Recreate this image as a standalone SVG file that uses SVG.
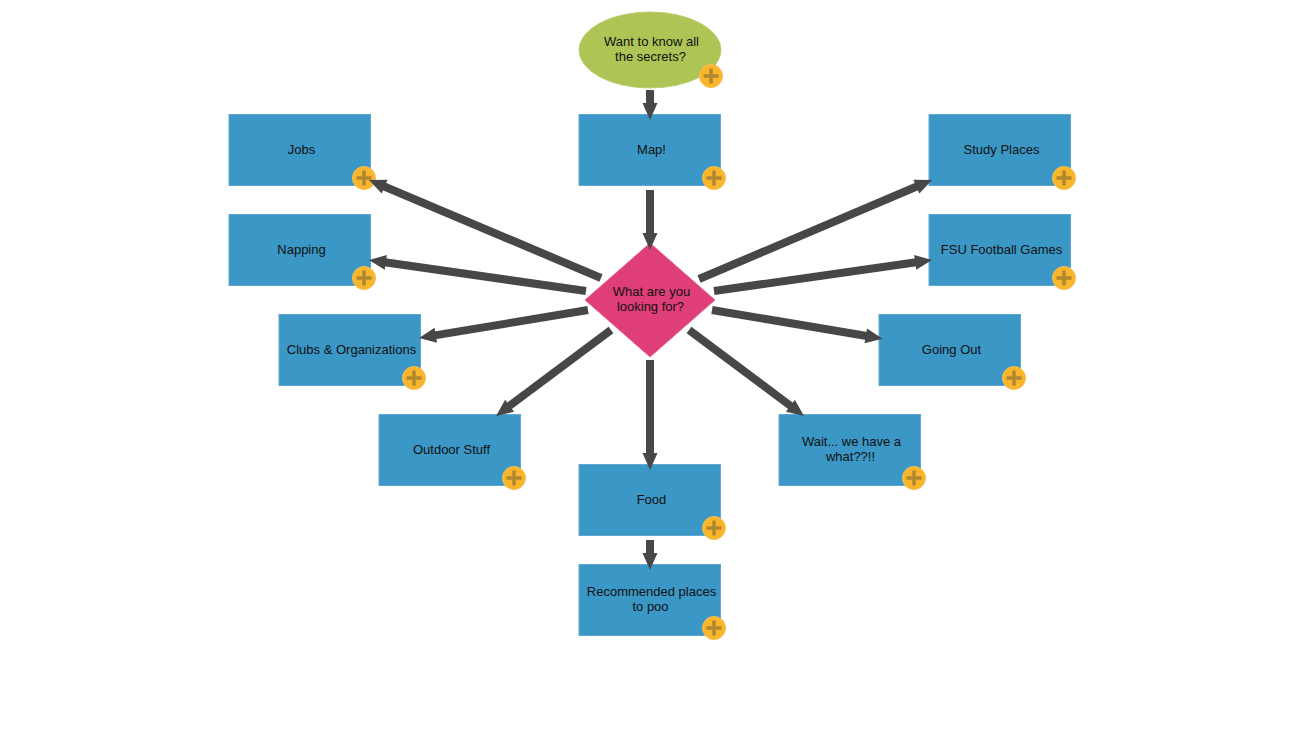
<svg xmlns="http://www.w3.org/2000/svg" width="1300" height="750" viewBox="0 0 1300 750">
<style>
.box{fill:#3b97c5;stroke:#5fa9d0;stroke-width:1}
.t{font-family:"Liberation Sans",Arial,sans-serif;font-size:13px;fill:#111;text-anchor:middle}
.c{stroke:#474747;stroke-width:8;fill:none;marker-end:url(#h)}
.pc{fill:#f9b52c;stroke:#f5c252;stroke-width:1}
.pl{stroke:#b0872e;stroke-width:3.5;fill:none}
</style>
<defs>
<marker id="h" markerUnits="userSpaceOnUse" markerWidth="20" markerHeight="18" refX="1" refY="9" orient="auto" overflow="visible"><path d="M0,1.5L17,9L0,16.5z" fill="#474747"/></marker>
<g id="p"><circle class="pc" r="11.5"/><path class="pl" d="M-7.5,0H7.5M0,-7.5V7.5"/></g>
</defs>
<rect width="1300" height="750" fill="#fff"/>
<g id="n-start"><ellipse cx="650" cy="50" rx="71" ry="38" fill="#aec455" stroke="#bacd6e"/><text class="t" x="651.5" y="46">Want to know all</text><text class="t" x="650.5" y="61">the secrets?</text><use href="#p" x="711" y="76"/></g>
<g id="n-map"><rect class="box" x="579" y="114.5" width="141.5" height="71"/><text class="t" x="651.5" y="154">Map!</text><use href="#p" x="714" y="178"/></g>
<g id="n-jobs"><rect class="box" x="229" y="114.5" width="141.5" height="71"/><text class="t" x="301.5" y="154">Jobs</text><use href="#p" x="364" y="178"/></g>
<g id="n-napping"><rect class="box" x="229" y="214.5" width="141.5" height="71"/><text class="t" x="301.5" y="254">Napping</text><use href="#p" x="364" y="278"/></g>
<g id="n-clubs"><rect class="box" x="279" y="314.5" width="141.5" height="71"/><text class="t" x="351.5" y="354">Clubs &amp; Organizations</text><use href="#p" x="414" y="378"/></g>
<g id="n-outdoor"><rect class="box" x="379" y="414.5" width="141.5" height="71"/><text class="t" x="451.5" y="454">Outdoor Stuff</text><use href="#p" x="514" y="478"/></g>
<g id="n-food"><rect class="box" x="579" y="464.5" width="141.5" height="71"/><text class="t" x="651.5" y="504">Food</text><use href="#p" x="714" y="528"/></g>
<g id="n-rec"><rect class="box" x="579" y="564.5" width="141.5" height="71"/><text class="t" x="651.5" y="596">Recommended places</text><text class="t" x="650.5" y="611">to poo</text><use href="#p" x="714" y="628"/></g>
<g id="n-wait"><rect class="box" x="779" y="414.5" width="141.5" height="71"/><text class="t" x="851.5" y="446">Wait... we have a</text><text class="t" x="850.5" y="461">what??!!</text><use href="#p" x="914" y="478"/></g>
<g id="n-going"><rect class="box" x="879" y="314.5" width="141.5" height="71"/><text class="t" x="951.5" y="354">Going Out</text><use href="#p" x="1014" y="378"/></g>
<g id="n-fsu"><rect class="box" x="929" y="214.5" width="141.5" height="71"/><text class="t" x="1001.5" y="254">FSU Football Games</text><use href="#p" x="1064" y="278"/></g>
<g id="n-study"><rect class="box" x="929" y="114.5" width="141.5" height="71"/><text class="t" x="1001.5" y="154">Study Places</text><use href="#p" x="1064" y="178"/></g>
<g id="n-q"><polygon points="650,243 715,300 650,357 585,300" fill="#e03e78" stroke="#e8709c"/><text class="t" x="651.5" y="296">What are you</text><text class="t" x="650.5" y="311">looking for?</text></g>
<g id="connectors">
<line class="c" x1="650" y1="90" x2="650" y2="104"/>
<line class="c" x1="650" y1="190" x2="650" y2="234"/>
<line class="c" x1="601" y1="278" x2="383.7" y2="186.2"/>
<line class="c" x1="586" y1="291" x2="384.8" y2="262.3"/>
<line class="c" x1="588" y1="310" x2="434.8" y2="335.4"/>
<line class="c" x1="611" y1="330" x2="508.8" y2="406.4"/>
<line class="c" x1="650" y1="360" x2="650" y2="454"/>
<line class="c" x1="689" y1="330" x2="791.2" y2="406.4"/>
<line class="c" x1="712" y1="310" x2="866.8" y2="336"/>
<line class="c" x1="714" y1="291" x2="916.2" y2="262.3"/>
<line class="c" x1="699" y1="279" x2="917.3" y2="186.3"/>
<line class="c" x1="650" y1="540" x2="650" y2="554"/>
</g>
</svg>
